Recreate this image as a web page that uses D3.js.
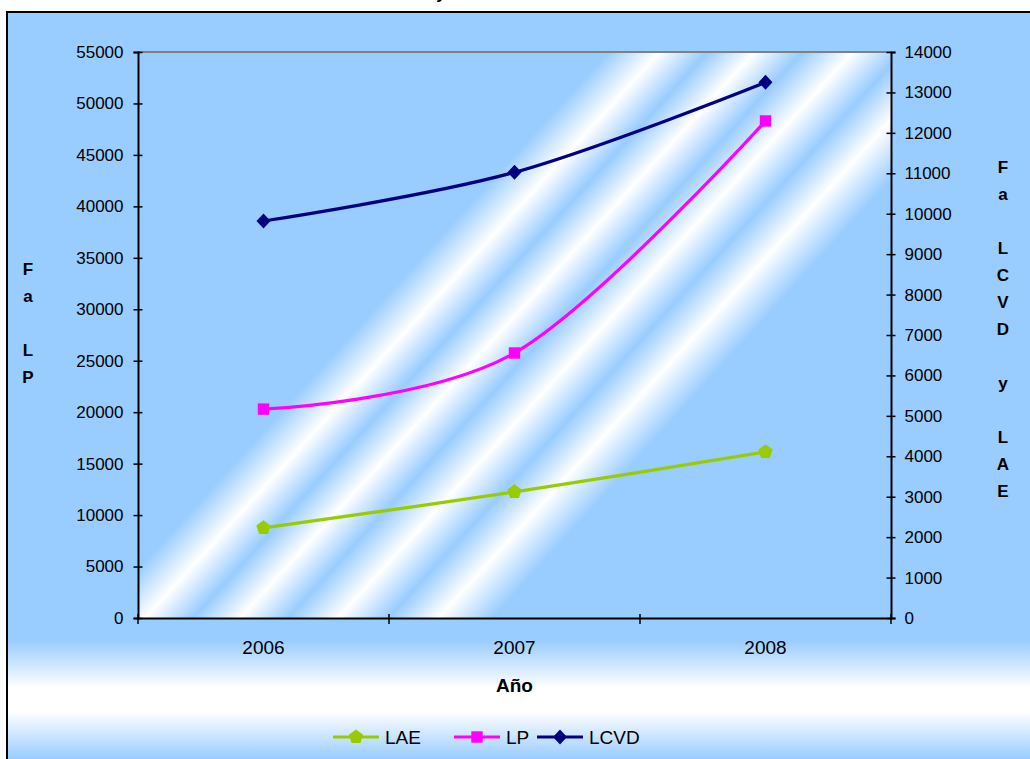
<!DOCTYPE html>
<html>
<head>
<meta charset="utf-8">
<script src="https://cdnjs.cloudflare.com/ajax/libs/d3/7.8.5/d3.min.js"></script>
<style>
  body { margin: 0; background: #fff; overflow: hidden; }
  text { font-family: "Liberation Sans", Arial, sans-serif; }
</style>
</head>
<body>
<div id="box"></div>
<script>
// 画布
const width = 1030
const height = 759
const margin = {top: 52, right: 139, bottom: 141, left: 138}

// 数据
const years = ['2006', '2007', '2008']
const lp = [20300, 25750, 48300]      // eje izquierdo
const lcvd = [9820, 11025, 13250]     // eje derecho
const lae = [2230, 3120, 4110]        // eje derecho
const leftTicks = [0, 5000, 10000, 15000, 20000, 25000, 30000, 35000, 40000, 45000, 50000, 55000]
const rightTicks = [0, 1000, 2000, 3000, 4000, 5000, 6000, 7000, 8000, 9000, 10000, 11000, 12000, 13000, 14000]
const leftTitle = ['F', 'a', '', 'L', 'P']
const rightTitle = ['F', 'a', '', 'L', 'C', 'V', 'D', '', 'y', '', 'L', 'A', 'E']

const blue = '#99ccff'

const series = [
  {name: 'LAE', values: lae, axis: 'right', color: '#99cc00', marker: 'pentagon'},
  {name: 'LP', values: lp, axis: 'left', color: '#ff00ff', marker: 'square'},
  {name: 'LCVD', values: lcvd, axis: 'right', color: '#000080', marker: 'diamond'}
]

const svg = d3.select('#box').append('svg')
  .attr('width', width)
  .attr('height', height)

const defs = svg.append('defs')

// 外框背景渐变（底部变白）
const bg = defs.append('linearGradient').attr('id', 'bg')
  .attr('gradientUnits', 'userSpaceOnUse')
  .attr('x1', 0).attr('y1', 0).attr('x2', 0).attr('y2', height)
;[[0, blue], [640 / height, blue], [688 / height, '#ffffff'], [712 / height, '#ffffff'], [1, blue]]
  .forEach(s => bg.append('stop').attr('offset', s[0]).attr('stop-color', s[1]))

// 绘图区斜条纹：等色线 x + y/1.1 = s
const k = 1.1
const nx = 1 / Math.hypot(1, 1 / k), ny = (1 / k) / Math.hypot(1, 1 / k)
const L = 1100
const sMax = L * Math.hypot(1, 1 / k)
const stripes = defs.append('linearGradient').attr('id', 'stripes')
  .attr('gradientUnits', 'userSpaceOnUse')
  .attr('x1', 0).attr('y1', 0).attr('x2', L * nx).attr('y2', L * ny)
;[[0, blue], [655, blue], [707, '#fff'], [755, blue], [802, '#fff'], [850, blue], [900, '#fff'],
  [950, blue], [1000, '#fff'], [1055, blue], [sMax, blue]]
  .forEach(s => stripes.append('stop').attr('offset', s[0] / sMax).attr('stop-color', s[1]))

svg.append('rect')
  .attr('x', 7).attr('y', 12)
  .attr('width', width).attr('height', height)
  .attr('fill', 'url(#bg)')
  .attr('stroke', '#000').attr('stroke-width', 2)

// 比例尺
const x = d3.scaleBand().domain(years).range([margin.left, width - margin.right])
const yL = d3.scaleLinear().domain([0, 55000]).range([height - margin.bottom, margin.top])
const yR = d3.scaleLinear().domain([0, 14000]).range([height - margin.bottom, margin.top])

svg.append('rect')
  .attr('x', margin.left).attr('y', margin.top)
  .attr('width', width - margin.left - margin.right)
  .attr('height', height - margin.top - margin.bottom)
  .attr('fill', 'url(#stripes)')

// 上边灰线
svg.append('line')
  .attr('x1', margin.left).attr('x2', width - margin.right)
  .attr('y1', margin.top).attr('y2', margin.top)
  .attr('stroke', '#808080').attr('stroke-width', 2)

// 坐标轴
const axisL = svg.append('g').attr('transform', `translate(${margin.left},0)`)
  .call(d3.axisLeft(yL).tickValues(leftTicks).tickFormat(d3.format('d')).tickSize(4.5).tickPadding(10))
const axisR = svg.append('g').attr('transform', `translate(${width - margin.right},0)`)
  .call(d3.axisRight(yR).tickValues(rightTicks).tickFormat(d3.format('d')).tickSize(4.5).tickPadding(9))
const axisB = svg.append('g').attr('transform', `translate(0,${height - margin.bottom})`)
  .call(d3.axisBottom(x).tickSize(0).tickPadding(23))

;[axisL, axisR].forEach(a => {
  a.select('.domain').attr('stroke', '#000').attr('stroke-width', 2)
  a.selectAll('.tick line').attr('x1', -4.5).attr('x2', 4.5).attr('stroke', '#000').attr('stroke-width', 1.5)
  a.selectAll('.tick text').style('font-size', '17px').attr('fill', '#000')
})
axisB.select('.domain').attr('stroke', '#000').attr('stroke-width', 2)
axisB.selectAll('.tick text').style('font-size', '19px').attr('fill', '#000')

// 类别分隔刻度
const bounds = years.map(d => x(d)).concat([x(years[years.length - 1]) + x.bandwidth()])
svg.append('g').selectAll('line').data(bounds).join('line')
  .attr('x1', d => d).attr('x2', d => d)
  .attr('y1', height - margin.bottom - 4).attr('y2', height - margin.bottom + 6)
  .attr('stroke', '#000').attr('stroke-width', 1.5)

// 轴标题
svg.append('text')
  .attr('x', (margin.left + width - margin.right) / 2).attr('y', 692)
  .attr('text-anchor', 'middle')
  .style('font', 'bold 19px "Liberation Sans", Arial, sans-serif')
  .text('Año')

svg.append('g').selectAll('text').data(leftTitle).join('text')
  .attr('x', 28).attr('y', (d, i) => 275 + i * 27)
  .attr('text-anchor', 'middle')
  .style('font', 'bold 17px "Liberation Sans", Arial, sans-serif')
  .text(d => d)

svg.append('g').selectAll('text').data(rightTitle).join('text')
  .attr('x', 1003).attr('y', (d, i) => 173 + i * 27)
  .attr('text-anchor', 'middle')
  .style('font', 'bold 17px "Liberation Sans", Arial, sans-serif')
  .text(d => d)

// 标题（被裁掉，只露出一点）
svg.append('text')
  .attr('x', 441).attr('y', -1)
  .attr('text-anchor', 'middle')
  .style('font', 'bold 17px "Liberation Sans", Arial, sans-serif')
  .text('y')

// 标记形状
function markerPath(type) {
  if (type === 'square') return d3.symbol(d3.symbolSquare, 130)()
  if (type === 'diamond') return 'M0,-7.5L7,0L0,7.5L-7,0Z'
  // pentagon
  const pts = d3.range(5).map(i => {
    const a = -Math.PI / 2 + i * 2 * Math.PI / 5
    return [7.5 * Math.cos(a), 7.5 * Math.sin(a)]
  })
  return 'M' + pts.join('L') + 'Z'
}

// 折线（Excel 平滑线 ≈ 均匀 Catmull-Rom）
const lines = svg.append('g')
series.forEach(s => {
  const yS = s.axis === 'left' ? yL : yR
  const pts = s.values.map((v, i) => [x(years[i]) + x.bandwidth() / 2, yS(v)])
  lines.append('path')
    .attr('d', d3.line().curve(d3.curveCatmullRom.alpha(0))(pts))
    .attr('fill', 'none')
    .attr('stroke', s.color)
    .attr('stroke-width', 3.2)
  lines.append('g').selectAll('path').data(pts).join('path')
    .attr('transform', d => `translate(${d[0]},${d[1]})`)
    .attr('d', markerPath(s.marker))
    .attr('fill', s.color)
})

// 图例
const legendX = [333, 454, 537]
const legend = svg.append('g')
series.forEach((s, i) => {
  const g = legend.append('g').attr('transform', `translate(${legendX[i]},737)`)
  g.append('line').attr('x1', 0).attr('x2', 46).attr('stroke', s.color).attr('stroke-width', 3.2)
  g.append('path').attr('transform', 'translate(23,0)').attr('d', markerPath(s.marker)).attr('fill', s.color)
  g.append('text').attr('x', 52).attr('y', 7)
    .style('font-size', '19px').text(s.name)
})
</script>
</body>
</html>
